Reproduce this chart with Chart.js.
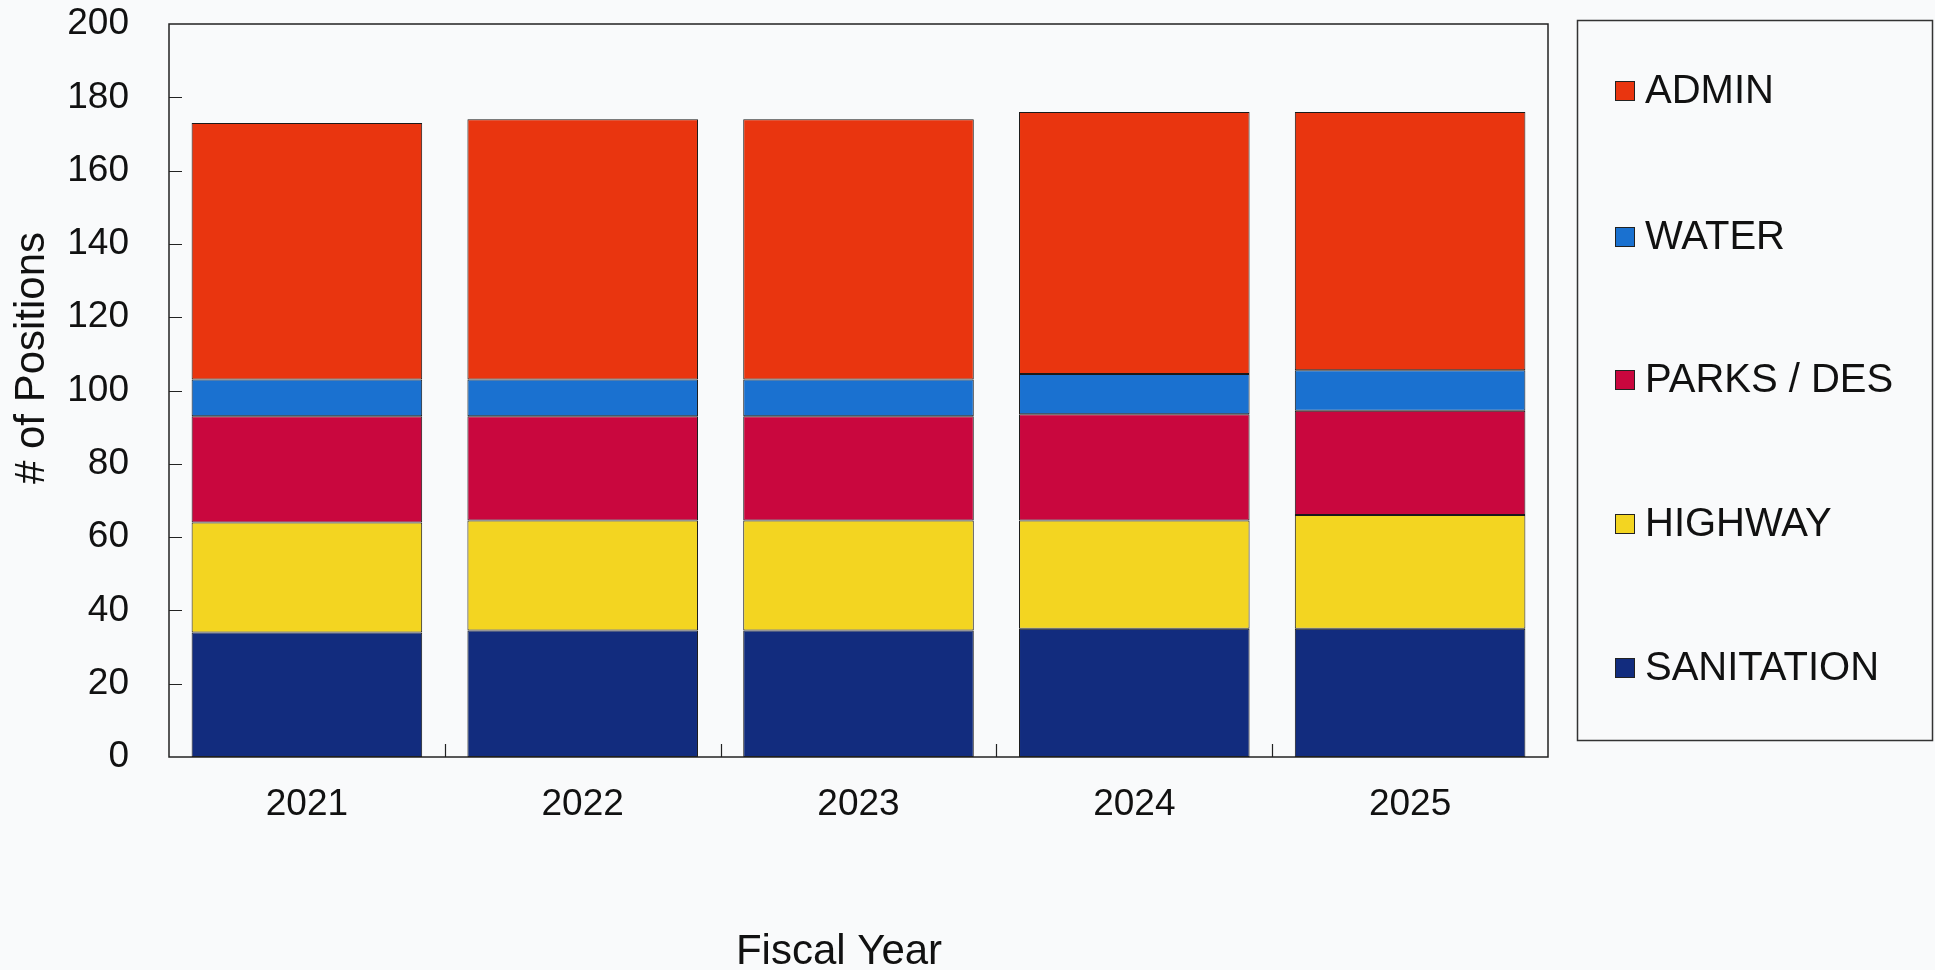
<!DOCTYPE html>
<html>
<head>
<meta charset="utf-8">
<script src="https://cdn.jsdelivr.net/npm/chart.js@4.4.1/dist/chart.umd.min.js"></script>
<style>
  html, body { margin: 0; padding: 0; background: #f9fafb; overflow: hidden; }
  #wrap { width: 1935px; height: 970px; }
</style>
</head>
<body>
<div id="wrap"><canvas id="positions" width="1935" height="970"></canvas></div>
<script>
// fiscal years on the x axis
const years = ['2021', '2022', '2023', '2024', '2025'];

// positions per department (stacked bottom -> top)
const sanitation = [34, 34.5, 34.5, 35, 35];
const highway    = [30, 30, 30, 29.5, 31];
const parks      = [29, 28.5, 28.5, 29, 28.5];
const water      = [10, 10, 10, 11, 11];
const admin      = [70, 71, 71, 71.5, 70.5];

// y axis ticks
const yMin = 0;
const yMax = 200;
const yStep = 20;

const FONT = "'Liberation Sans', Arial, sans-serif";

// paper background
const paperBg = {
  id: 'paperBg',
  beforeDraw(chart) {
    const { ctx, width, height } = chart;
    ctx.save();
    ctx.fillStyle = '#f9fafb';
    ctx.fillRect(0, 0, width, height);
    ctx.restore();
  }
};

// frame around plot, inner tick marks, axis titles, boxed legend
const decorations = {
  id: 'decorations',
  afterDraw(chart) {
    const { ctx, chartArea: a } = chart;
    const x = chart.scales.x;
    const y = chart.scales.y;
    ctx.save();
    ctx.strokeStyle = '#222';
    ctx.lineWidth = 1.5;
    ctx.strokeRect(a.left, a.top, a.right - a.left, a.bottom - a.top);

    // inner ticks on y axis
    ctx.lineWidth = 1.2;
    ctx.beginPath();
    for (let v = yMin + yStep; v < yMax; v += yStep) {
      const py = Math.round(y.getPixelForValue(v)) + 0.5;
      ctx.moveTo(a.left, py);
      ctx.lineTo(a.left + 13, py);
    }
    // inner ticks between categories
    for (let i = 0; i < years.length - 1; i++) {
      const px = Math.round((x.getPixelForValue(i) + x.getPixelForValue(i + 1)) / 2) + 0.5;
      ctx.moveTo(px, a.bottom);
      ctx.lineTo(px, a.bottom - 13);
    }
    ctx.stroke();

    // axis titles
    ctx.fillStyle = '#111';
    ctx.font = '42px ' + FONT;
    ctx.textAlign = 'center';
    ctx.textBaseline = 'alphabetic';
    ctx.fillText('Fiscal Year', 839, 964);

    ctx.save();
    ctx.translate(44, 358);
    ctx.rotate(-Math.PI / 2);
    ctx.font = '42px ' + FONT;
    ctx.fillText('# of Positions', 0, 0);
    ctx.restore();

    // legend box
    ctx.lineWidth = 1.5;
    ctx.strokeStyle = '#333';
    ctx.strokeRect(1577.5, 20.5, 355, 720);
    const rowsY = [91, 237, 380, 524, 668];
    const sets = chart.data.datasets.slice().reverse();
    ctx.font = '40px ' + FONT;
    ctx.textAlign = 'left';
    ctx.textBaseline = 'middle';
    sets.forEach((ds, i) => {
      const cy = rowsY[i];
      ctx.fillStyle = ds.backgroundColor;
      ctx.fillRect(1615, cy - 10, 20, 20);
      ctx.lineWidth = 1;
      ctx.strokeStyle = '#222';
      ctx.strokeRect(1615.5, cy - 9.5, 19, 19);
      ctx.fillStyle = '#111';
      ctx.fillText(ds.label, 1645, cy + 1);
    });
    ctx.restore();
  }
};

function bar(label, data, color) {
  return {
    label: label,
    data: data,
    backgroundColor: color,
    borderColor: '#1a1a1a',
    borderWidth: 1,
    borderSkipped: false,
    categoryPercentage: 1.0,
    barPercentage: 0.836
  };
}

new Chart(document.getElementById('positions'), {
  type: 'bar',
  data: {
    labels: years,
    datasets: [
      bar('SANITATION', sanitation, '#122c7e'),
      bar('HIGHWAY', highway, '#f3d521'),
      bar('PARKS / DES', parks, '#c9073e'),
      bar('WATER', water, '#1a71d0'),
      bar('ADMIN', admin, '#e9350f')
    ]
  },
  options: {
    responsive: false,
    animation: false,
    layout: { padding: { left: 0, right: 387, top: 24, bottom: 0 } },
    plugins: {
      legend: { display: false },
      tooltip: { enabled: false }
    },
    scales: {
      x: {
        stacked: true,
        grid: { display: false, drawTicks: false },
        border: { display: false },
        ticks: {
          color: '#111',
          font: { family: FONT, size: 37 },
          padding: 26
        },
        afterFit(scale) {
          scale.height = 970 - 757;
          scale.paddingLeft = 0;
          scale.paddingRight = 0;
        }
      },
      y: {
        stacked: true,
        min: yMin,
        max: yMax,
        grid: { display: false, drawTicks: false },
        border: { display: false },
        ticks: {
          stepSize: yStep,
          color: '#111',
          font: { family: FONT, size: 37 },
          padding: 40
        },
        afterFit(scale) {
          scale.width = 169;
          scale.paddingTop = 0;
          scale.paddingBottom = 0;
        }
      }
    }
  },
  plugins: [paperBg, decorations]
});
</script>
</body>
</html>
